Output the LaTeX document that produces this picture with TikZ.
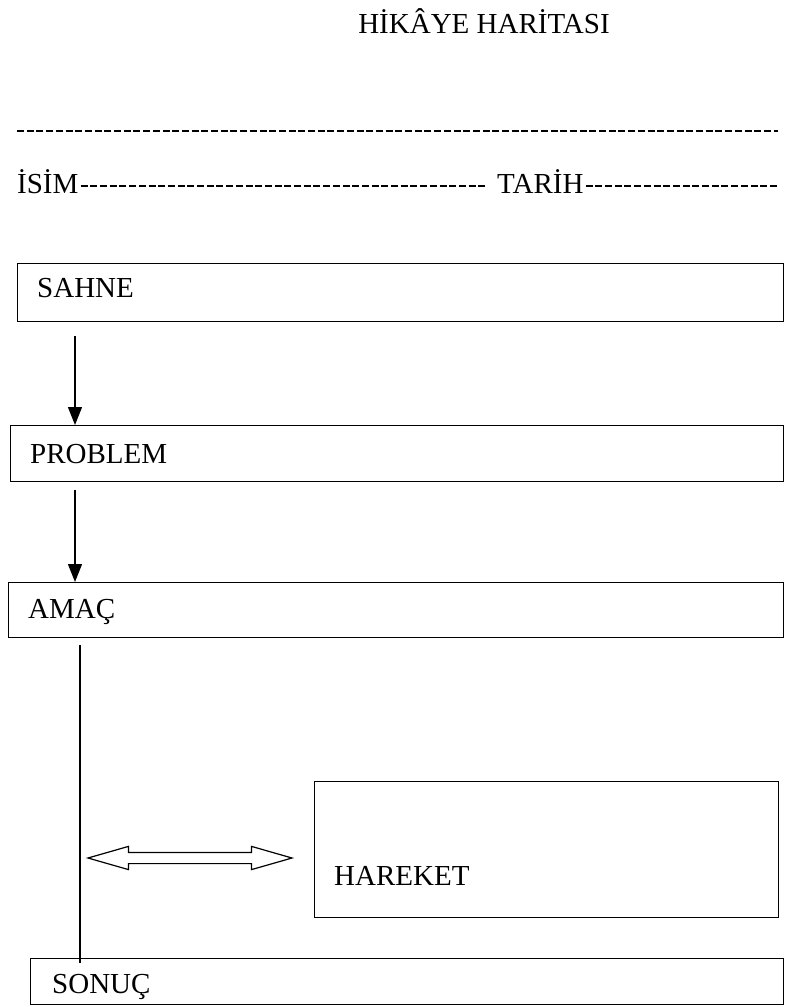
\documentclass[tikz,border=0pt]{standalone}
\usepackage{fontspec}
\setmainfont{Liberation Serif}
\usetikzlibrary{arrows.meta,shapes.arrows,calc}
\begin{document}
\begin{tikzpicture}[x=1pt,y=-1pt,
  panel/.style={draw, line width=1.3pt, rectangle, inner sep=0pt, anchor=north west},
  lbl/.style={anchor=base west, inner sep=0pt, font=\fontsize{29}{34}\selectfont},
  flow/.style={line width=1.3pt, -{Triangle[length=18pt,width=14pt]}},
  plain/.style={line width=1.3pt},
  filler/.style={line width=1.8pt, dash pattern=on 7pt off 2.7pt},
  twoway/.style={draw, line width=1.2pt, double arrow, inner xsep=0pt, inner ysep=5pt,
    minimum height=204pt, minimum width=22pt,
    double arrow head extend=6pt, double arrow tip angle=32}]
\useasboundingbox (0,0) rectangle (786,1007);

% heading
\node[lbl, anchor=base] (title) at (484,33) {HİKÂYE HARİTASI};

% name / date lines
\coordinate (rule1a) at (17,131);
\coordinate (rule1b) at (778,131);
\draw[filler] (rule1a) -- (rule1b);
\node[lbl] (isim) at (17,193) {İSİM};
\node[lbl] (tarih) at (497,193) {TARİH};
\coordinate (dashend) at (778,186);
\draw[filler] ($(isim.base east)+(2,-7)$) -- ($(tarih.base west)+(-10,-7)$);
\draw[filler] ($(tarih.base east)+(2,-7)$) -- (dashend);

% story boxes
\node[panel, minimum width=766pt, minimum height=58pt] (sahne) at (17,263) {};
\node[lbl] (tsahne) at (37,297) {SAHNE};

\node[panel, minimum width=773pt, minimum height=56pt] (problem) at (10,425) {};
\node[lbl] (tproblem) at (30,463) {PROBLEM};

\node[panel, minimum width=775pt, minimum height=55pt] (amac) at (8,582) {};
\node[lbl] (tamac) at (28,618) {AMAÇ};

\node[panel, minimum width=464pt, minimum height=136pt] (hareket) at (314,781) {};
\node[lbl] (thareket) at (334,885) {HAREKET};

\node[panel, minimum width=753pt, minimum height=46pt] (sonuc) at (30,958) {};
\node[lbl] (tsonuc) at (52,993) {SONUÇ};

% connectors
\coordinate (s1) at (75,336);
\draw[flow] (s1) -- (s1 |- problem.north);
\coordinate (s2) at (75,490);
\draw[flow] (s2) -- (s2 |- amac.north);
\coordinate (drop) at (80,645);
\draw[plain] (drop) -- ($(drop |- sonuc.north)+(0,5)$);

% two-way arrow between the timeline and the action box
\node[twoway] (link) at (190,858) {};
\end{tikzpicture}
\end{document}
